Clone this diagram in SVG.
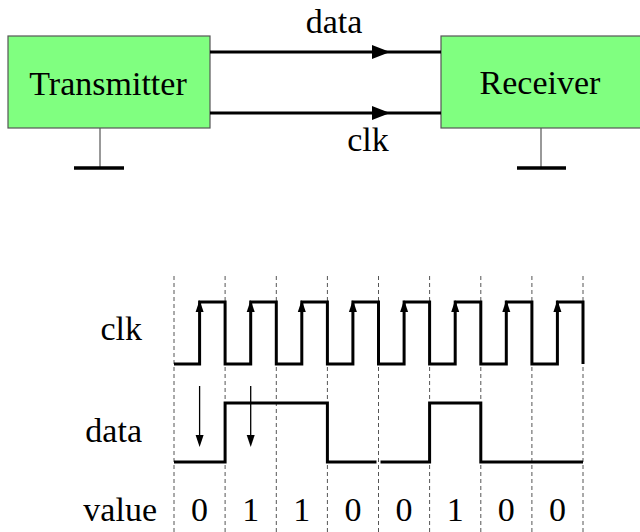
<svg xmlns="http://www.w3.org/2000/svg" width="640" height="532" viewBox="0 0 640 532">
<style>
text{font-family:"Liberation Serif","DejaVu Serif","Noto Serif",serif;font-size:34px;fill:#000}
.box{fill:#80FF80;stroke:#555;stroke-width:1.2}
.wire{stroke:#000;stroke-width:3;fill:none}
.gnd{stroke:#555;stroke-width:1.2}
.bar{stroke:#000;stroke-width:3.5}
.dash{stroke:#555;stroke-width:1;stroke-dasharray:4 3}
.wave{stroke:#000;stroke-width:3;fill:none;stroke-linejoin:miter}
.thin{stroke:#000;stroke-width:1.3}
</style>
<rect width="640" height="532" fill="#fff"/>
<g id="transmitter">
<rect class="box" x="8" y="36" width="202" height="92"/>
<text x="108" y="95" text-anchor="middle">Transmitter</text>
<line class="gnd" x1="100" y1="128" x2="100" y2="168"/>
<line class="bar" x1="74" y1="168" x2="124" y2="168"/>
</g>
<g id="receiver">
<rect class="box" x="441" y="36" width="205" height="92"/>
<text x="540" y="94" text-anchor="middle">Receiver</text>
<line class="gnd" x1="541" y1="128" x2="541" y2="168"/>
<line class="bar" x1="517" y1="168" x2="566" y2="168"/>
</g>
<g id="connectors">
<line class="wire" x1="210" y1="52" x2="441" y2="52"/>
<polygon points="372,45 390,52 372,59" fill="#000"/>
<text x="334" y="33" text-anchor="middle">data</text>
<line class="wire" x1="210" y1="113" x2="441" y2="113"/>
<polygon points="372,106 390,113 372,120" fill="#000"/>
<text x="368" y="151" text-anchor="middle">clk</text>
</g>
<g id="timing">
<g id="gridlines">
<line class="dash" x1="174" y1="276" x2="174" y2="532"/>
<line class="dash" x1="225.1" y1="276" x2="225.1" y2="532"/>
<line class="dash" x1="276.3" y1="276" x2="276.3" y2="532"/>
<line class="dash" x1="327.4" y1="276" x2="327.4" y2="532"/>
<line class="dash" x1="378.5" y1="276" x2="378.5" y2="532"/>
<line class="dash" x1="429.6" y1="276" x2="429.6" y2="532"/>
<line class="dash" x1="480.8" y1="276" x2="480.8" y2="532"/>
<line class="dash" x1="531.9" y1="276" x2="531.9" y2="532"/>
<line class="dash" x1="583" y1="276" x2="583" y2="532"/>
</g>
<g id="labels">
<text x="142" y="340" text-anchor="end">clk</text>
<text x="142" y="442" text-anchor="end">data</text>
<text x="157" y="521" text-anchor="end">value</text>
</g>
<g id="clk-wave">
<path class="wave" d="M174,364 H199.6 V302 H225.1 V364 H250.7 V302 H276.3 V364 H301.8 V302 H327.4 V364 H352.9 V302 H378.5 V364 H404.1 V302 H429.6 V364 H455.2 V302 H480.8 V364 H506.3 V302 H531.9 V364 H557.4 V302 H583 V364"/>
<g fill="#000">
<polygon points="195.6,312 199.6,300 203.6,312"/>
<polygon points="246.7,312 250.7,300 254.7,312"/>
<polygon points="297.8,312 301.8,300 305.8,312"/>
<polygon points="348.9,312 352.9,300 356.9,312"/>
<polygon points="400.1,312 404.1,300 408.1,312"/>
<polygon points="451.2,312 455.2,300 459.2,312"/>
<polygon points="502.3,312 506.3,300 510.3,312"/>
<polygon points="553.4,312 557.4,300 561.4,312"/>
</g>
</g>
<g id="data-wave">
<path class="wave" d="M174,462 H225.1 V403 H327.4 V462 H376.5 M380.5,462 H429.6 V403 H480.8 V462 H583"/>
<line class="thin" x1="199.6" y1="386" x2="199.6" y2="436"/>
<polygon points="195.6,435 199.6,447 203.6,435" fill="#000"/>
<line class="thin" x1="250.7" y1="386" x2="250.7" y2="436"/>
<polygon points="246.7,435 250.7,447 254.7,435" fill="#000"/>
</g>
<g id="values">
<text x="199.6" y="521" text-anchor="middle">0</text>
<text x="250.7" y="521" text-anchor="middle">1</text>
<text x="301.8" y="521" text-anchor="middle">1</text>
<text x="352.9" y="521" text-anchor="middle">0</text>
<text x="404.1" y="521" text-anchor="middle">0</text>
<text x="455.2" y="521" text-anchor="middle">1</text>
<text x="506.3" y="521" text-anchor="middle">0</text>
<text x="557.4" y="521" text-anchor="middle">0</text>
</g>
</g>
</svg>
